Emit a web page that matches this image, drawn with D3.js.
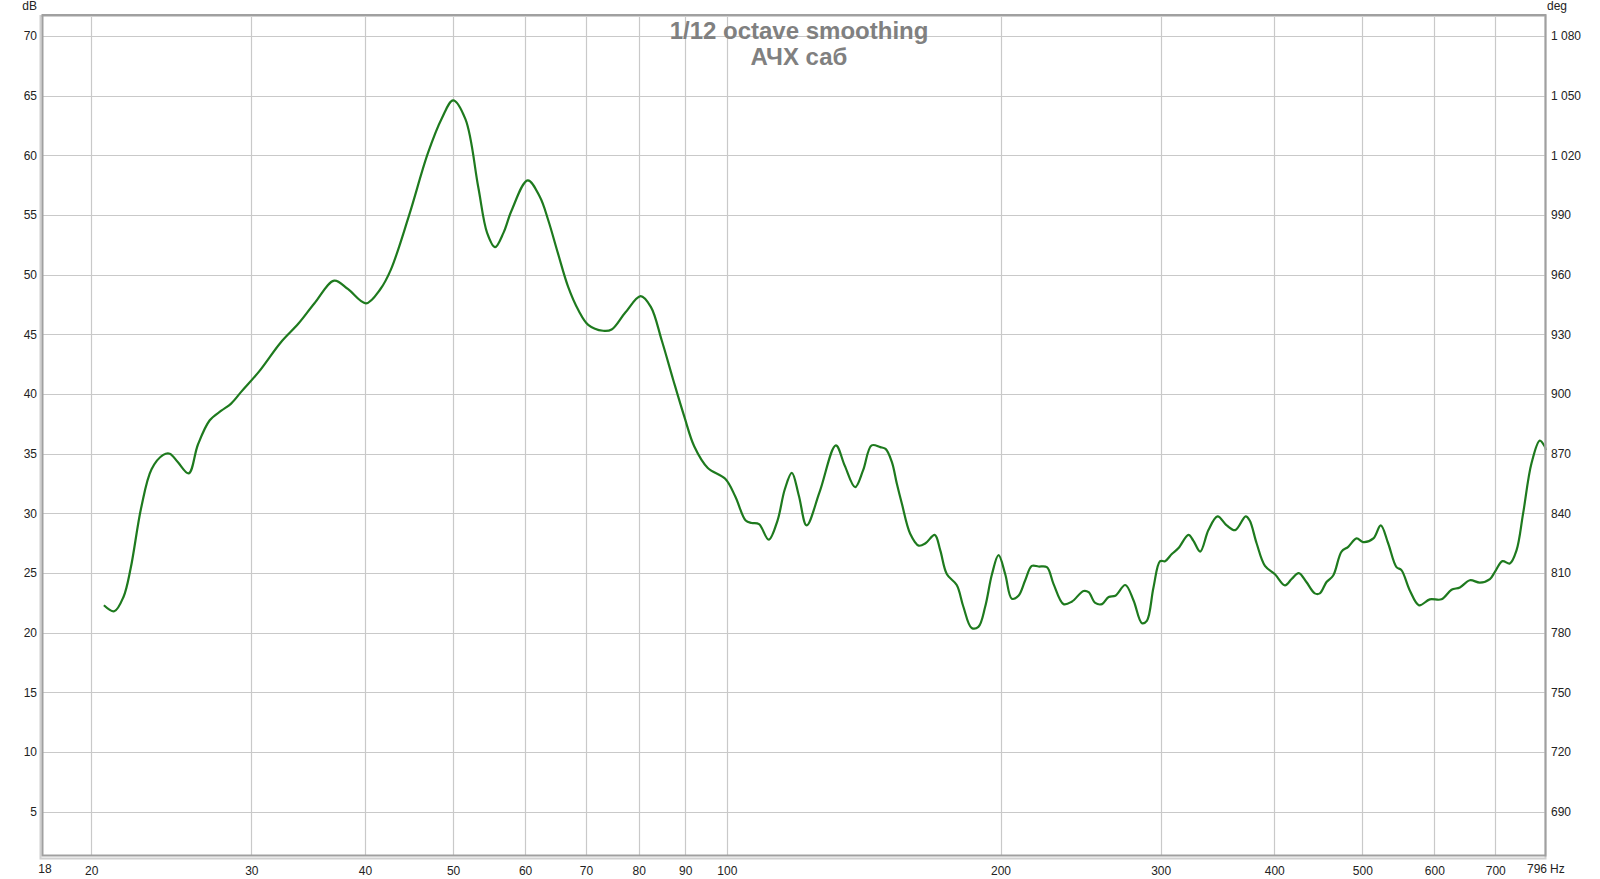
<!DOCTYPE html>
<html>
<head>
<meta charset="utf-8">
<script src="https://cdn.jsdelivr.net/npm/d3@7/dist/d3.min.js"></script>
<style>
  html, body { margin: 0; padding: 0; background: #fff; }
  svg { display: block; }
  text { font-family: "Liberation Sans", Arial, sans-serif; }
</style>
</head>
<body>
<svg id="chart" width="1600" height="879"></svg>
<script>
// ---- data ----
const titleLines = ["1/12 octave smoothing", "АЧХ саб"];
const freqTicks = [20, 30, 40, 50, 60, 70, 80, 90, 100, 200, 300, 400, 500, 600, 700];
const dbTicks = [5, 10, 15, 20, 25, 30, 35, 40, 45, 50, 55, 60, 65, 70];
const degTicks = [690, 720, 750, 780, 810, 840, 870, 900, 930, 960, 990, 1020, 1050, 1080];
const freqEnds = [18, 796];

const freq = [20.65, 21.2, 21.7, 22.1, 22.7, 23.3, 24.0, 24.4, 24.9, 25.6, 26.2, 27.0, 27.8, 28.5, 29.25, 30.6, 32.3, 33.8, 35.2, 37.0, 38.3, 40.1, 41.6, 42.7, 44.7, 46.9, 48.6, 50.0, 51.6, 53.3, 54.5, 55.6, 56.8, 58.0, 60.4, 62.3, 63.6, 65.2, 66.9, 68.7, 70.4, 73.1, 74.7, 77.3, 80.4, 82.5, 84.8, 87.3, 89.8, 92.1, 95.3, 99.6, 102.2, 104.9, 106.5, 108.5, 111.2, 113.7, 115.8, 117.9, 120.0, 122.4, 126.5, 131.8, 134.8, 138.4, 141.2, 144.3, 147.5, 149.5, 151.9, 153.8, 155.8, 159.1, 162.6, 165.4, 169.3, 171.7, 174.6, 179.0, 182.0, 185.9, 189.1, 192.4, 195.7, 199.0, 202.4, 205.8, 209.3, 212.9, 216.5, 220.2, 224.9, 228.7, 234.6, 239.5, 246.8, 250.0, 254.2, 258.6, 263.0, 267.5, 274.3, 280.1, 286.1, 289.7, 294.6, 299.6, 303.4, 308.6, 313.9, 321.9, 326.0, 331.6, 338.6, 346.5, 354.6, 362.3, 372.1, 375.9, 382.5, 390.7, 400.7, 411.0, 418.0, 425.6, 433.9, 443.2, 448.9, 456.6, 464.4, 474.3, 482.4, 492.7, 501.0, 514.2, 523.8, 533.7, 545.1, 552.0, 563.8, 577.2, 593.1, 610.9, 626.6, 640.0, 656.5, 673.3, 690.6, 699.4, 712.9, 726.3, 738.7, 751.2, 767.3, 783.6, 793.5, 796];
const spl = [22.3, 21.8, 23.0, 25.4, 30.5, 33.7, 34.9, 35.0, 34.3, 33.35, 35.75, 37.8, 38.6, 39.2, 40.2, 41.9, 44.3, 45.9, 47.6, 49.5, 48.8, 47.6, 48.8, 50.4, 54.9, 60.15, 63.1, 64.6, 63.0, 57.3, 53.5, 52.3, 53.5, 55.4, 57.9, 56.5, 54.6, 51.8, 49.0, 47.0, 45.8, 45.3, 45.4, 46.8, 48.2, 47.3, 44.5, 41.2, 38.1, 35.6, 33.8, 32.9, 31.4, 29.4, 29.2, 29.1, 27.8, 29.4, 32.0, 33.4, 31.5, 29.0, 31.8, 35.7, 34.0, 32.2, 33.6, 35.7, 35.55, 35.4, 34.3, 32.5, 30.8, 28.3, 27.3, 27.5, 28.2, 26.9, 24.9, 24.0, 22.2, 20.4, 20.5, 22.2, 24.9, 26.5, 24.9, 22.85, 23.1, 24.4, 25.6, 25.55, 25.5, 24.1, 22.4, 22.6, 23.5, 23.4, 22.5, 22.4, 23.0, 23.1, 24.0, 22.7, 20.8, 21.0, 23.8, 26.0, 26.0, 26.6, 27.1, 28.2, 27.7, 26.8, 28.6, 29.75, 29.0, 28.6, 29.75, 29.4, 27.5, 25.6, 24.9, 23.97, 24.5, 25.0, 24.25, 23.3, 23.3, 24.25, 24.8, 26.8, 27.2, 27.9, 27.6, 27.9, 29.0, 27.5, 25.5, 25.25, 23.55, 22.3, 22.8, 22.8, 23.6, 23.8, 24.4, 24.2, 24.5, 25.1, 26.0, 25.8, 26.9, 30.0, 34.2, 36.1, 35.6, 35.3];

// ---- layout ----
const L = 43, R = 1546, T = 15, B = 856;
const svg = d3.select("#chart");

const x = d3.scaleLog().domain([17.7, 796]).range([L, R]);
const y = d3.scaleLinear().domain([1.3, 71.75]).range([B, T]);
// phase axis: 6 deg per dB, 1080 deg at 70 dB
const degScale = d3.scaleLinear()
  .domain([1080 - (70 - 1.3) * 6, 1080 + (71.75 - 70) * 6])
  .range([B, T]);

const ru = d3.formatLocale({decimal: ",", thousands: "\u00a0", grouping: [3], currency: ["", ""]});
const fmtDeg = ru.format(",d");

// grid
const grid = svg.append("g");
grid.selectAll("line.v").data(freqTicks).join("line")
  .attr("x1", d => Math.round(x(d)) + 0.5).attr("x2", d => Math.round(x(d)) + 0.5)
  .attr("y1", T).attr("y2", B)
  .attr("stroke", "#c9c9c9").attr("stroke-width", 1.2);
grid.selectAll("line.h").data(dbTicks).join("line")
  .attr("x1", L).attr("x2", R)
  .attr("y1", d => Math.round(y(d)) + 0.5).attr("y2", d => Math.round(y(d)) + 0.5)
  .attr("stroke", "#c9c9c9").attr("stroke-width", 1.2);

// curve
const line = d3.line()
  .x((d, i) => x(freq[i]))
  .y((d, i) => y(spl[i]))
  .curve(d3.curveCatmullRom.alpha(0.5));
svg.append("path")
  .attr("d", line(freq))
  .attr("fill", "none")
  .attr("stroke", "#1e7a1e")
  .attr("stroke-width", 2.2)
  .attr("stroke-linejoin", "round");

// frame with shadow
svg.append("rect").attr("x", L - 2.5).attr("y", T + 1).attr("width", R - L + 2).attr("height", B - T + 1.5)
  .attr("fill", "none").attr("stroke", "#d0d0d0").attr("stroke-width", 2);
svg.append("rect").attr("x", L - 0.5).attr("y", T).attr("width", R - L).attr("height", B - T - 0.5)
  .attr("fill", "none").attr("stroke", "#a0a0a0").attr("stroke-width", 2);

// left axis labels
const leftAxis = d3.axisLeft(y).tickValues(dbTicks).tickSize(0).tickPadding(5);
const gl = svg.append("g").attr("transform", `translate(${L - 1},0)`).call(leftAxis);
gl.select(".domain").remove();
gl.selectAll("text").attr("font-size", 12).attr("fill", "#222").attr("font-family", "Liberation Sans, Arial, sans-serif");

// right axis labels
const rightAxis = d3.axisRight(degScale).tickValues(degTicks).tickSize(0).tickPadding(4).tickFormat(fmtDeg);
const gr = svg.append("g").attr("transform", `translate(${R + 1},0)`).call(rightAxis);
gr.select(".domain").remove();
gr.selectAll("text").attr("font-size", 12).attr("fill", "#222").attr("font-family", "Liberation Sans, Arial, sans-serif");

// bottom axis labels
const bottomAxis = d3.axisBottom(x).tickValues(freqTicks).tickSize(0).tickPadding(10).tickFormat(d3.format("d"));
const gb = svg.append("g").attr("transform", `translate(0,${B})`).call(bottomAxis);
gb.select(".domain").remove();
gb.selectAll("text").attr("font-size", 12).attr("fill", "#222").attr("font-family", "Liberation Sans, Arial, sans-serif");

// end labels
svg.append("text").attr("x", L + 2).attr("y", 873).attr("text-anchor", "middle")
  .attr("font-size", 12).attr("fill", "#222").text(freqEnds[0]);
svg.append("text").attr("x", R + 1).attr("y", 873).attr("text-anchor", "end")
  .attr("font-size", 12).attr("fill", "#222").text(freqEnds[1]);
svg.append("text").attr("x", R + 4).attr("y", 873).attr("text-anchor", "start")
  .attr("font-size", 12).attr("fill", "#222").text("Hz");

// unit labels
svg.append("text").attr("x", 37).attr("y", 10).attr("text-anchor", "end")
  .attr("font-size", 12).attr("fill", "#222").text("dB");
svg.append("text").attr("x", 1547).attr("y", 10).attr("text-anchor", "start")
  .attr("font-size", 12).attr("fill", "#222").text("deg");

// title
svg.selectAll("text.title").data(titleLines).join("text")
  .attr("class", "title")
  .attr("x", 799).attr("y", (d, i) => 39 + i * 26)
  .attr("text-anchor", "middle")
  .attr("font-size", 24).attr("font-weight", "bold").attr("fill", "#808080")
  .text(d => d);
</script>
</body>
</html>
